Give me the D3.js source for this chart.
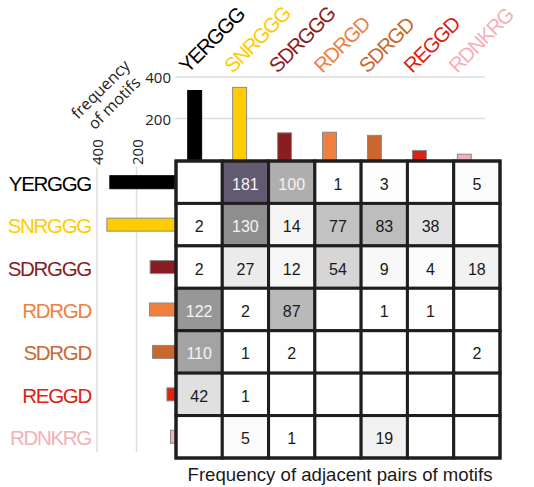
<!DOCTYPE html>
<html>
<head>
<meta charset="utf-8">
<script src="https://cdn.jsdelivr.net/npm/d3@7"></script>
<style>
  html, body { margin: 0; padding: 0; background: #fff; }
  svg { display: block; }
</style>
</head>
<body>
<svg id="chart" width="534" height="487"></svg>
<script>
// Motifs, in the order used for both the rows and the columns
const motifs = ["YERGGG", "SNRGGG", "SDRGGG", "RDRGD", "SDRGD", "REGGD", "RDNKRG"];
const motifColors = ["#000000", "#FFCC00", "#8B1C22", "#F08040", "#C9672F", "#DD2210", "#F4B0B8"];

// Total frequency of each motif (marginal bars)
const motifFrequency = [335, 350, 131, 134, 119, 46, 28];
const freqTicks = [200, 400];

// Frequency of adjacent pairs: row = first motif, column = following motif (null = none)
const pairCounts = [
  [null, 181, 100, 1,    3,    null, 5   ],
  [2,    130, 14,  77,   83,   38,   null],
  [2,    27,  12,  54,   9,    4,    18  ],
  [122,  2,   87,  null, 1,    1,    null],
  [110,  1,   2,   null, null, null, 2   ],
  [42,   1,   null, null, null, null, null],
  [null, 5,   1,   null, 19,   null, null]
];

const svg = d3.select("#chart");
const labelFont = "Liberation Sans, Arial, sans-serif";
const tickFont = "Open Sans, sans-serif";

// Matrix layout
const gx = d3.scaleBand().domain(d3.range(motifs.length)).range([176, 500]);
const gy = d3.scaleBand().domain(d3.range(motifs.length)).range([161, 458]);

const shade = d3.scaleLinear()
  .domain([0, 50, 100, 130, 181])
  .range(["#ffffff", "#dadada", "#aeaeae", "#8e8e8e", "#625a70"])
  .interpolate(d3.interpolateRgb);

// ---------- top marginal bar chart ----------
const tx = d3.scaleBand().domain(d3.range(motifs.length)).range([172, 487]).paddingInner(0.69).paddingOuter(0.35);
const ty = d3.scaleLinear().domain([0, 400]).range([160, 77]);

svg.append("g").selectAll("line").data(freqTicks).join("line")
  .attr("x1", 175).attr("x2", 485)
  .attr("y1", d => ty(d)).attr("y2", d => ty(d))
  .attr("stroke", "#dedede").attr("stroke-width", 1.5);

svg.append("g").selectAll("text").data(freqTicks).join("text")
  .attr("x", 171).attr("y", d => ty(d))
  .attr("text-anchor", "end").attr("dominant-baseline", "central")
  .attr("font-family", tickFont).attr("font-size", 15)
  .attr("fill", "#222").text(d => d);

svg.append("g").selectAll("rect").data(motifFrequency).join("rect")
  .attr("x", (d, i) => tx(i)).attr("width", tx.bandwidth())
  .attr("y", d => ty(d)).attr("height", d => ty(0) - ty(d) + 2)
  .attr("fill", (d, i) => motifColors[i])
  .attr("stroke", (d, i) => i === 0 ? "#000" : "#8a8a8a").attr("stroke-width", 1);

// rotated column labels
svg.append("g").selectAll("text").data(motifs).join("text")
  .attr("transform", (d, i) => `translate(${tx(i) + tx.bandwidth() / 2 - 7},74) rotate(-45)`)
  .attr("font-family", labelFont).attr("font-size", 20.5)
  .attr("letter-spacing", -1.3)
  .attr("fill", (d, i) => motifColors[i]).text(d => d);

// axis title for the marginal bars
const ft = svg.append("text")
  .attr("transform", "translate(107,96) rotate(-45)")
  .attr("text-anchor", "middle")
  .attr("font-family", tickFont).attr("font-size", 16)
  .attr("fill", "#222");
ft.append("tspan").attr("x", 0).attr("y", -9.7).attr("dominant-baseline", "central").text("frequency");
ft.append("tspan").attr("x", 0).attr("y", 9.7).attr("dominant-baseline", "central").text("of motifs");

// ---------- left marginal bar chart ----------
const lx = d3.scaleLinear().domain([0, 400]).range([176, 97]);
const ly = d3.scaleBand().domain(d3.range(motifs.length)).range([161, 458]);

svg.append("g").selectAll("line").data(freqTicks).join("line")
  .attr("x1", d => lx(d)).attr("x2", d => lx(d))
  .attr("y1", 167).attr("y2", 452)
  .attr("stroke", "#dedede").attr("stroke-width", 1.5);

svg.append("g").selectAll("text").data(freqTicks).join("text")
  .attr("transform", d => `translate(${lx(d)},165) rotate(-90)`)
  .attr("dominant-baseline", "central")
  .attr("font-family", tickFont).attr("font-size", 15)
  .attr("fill", "#222").text(d => d);

svg.append("g").selectAll("rect").data(motifFrequency).join("rect")
  .attr("x", d => lx(d)).attr("width", d => lx(0) - lx(d))
  .attr("y", (d, i) => ly(i) + ly.bandwidth() / 2 - 6.5).attr("height", 13)
  .attr("fill", (d, i) => motifColors[i])
  .attr("stroke", (d, i) => i === 0 ? "#000" : "#8a8a8a").attr("stroke-width", 1);

// row labels
svg.append("g").selectAll("text").data(motifs).join("text")
  .attr("x", 91).attr("y", (d, i) => ly(i) + ly.bandwidth() / 2 + 1)
  .attr("text-anchor", "end").attr("dominant-baseline", "central")
  .attr("font-family", labelFont).attr("font-size", 20.5)
  .attr("letter-spacing", -1.3)
  .attr("fill", (d, i) => motifColors[i]).text(d => d);

// ---------- pair matrix ----------
const cells = [];
pairCounts.forEach((row, r) => row.forEach((v, c) => cells.push({ r, c, v })));

const cellG = svg.append("g");
cellG.selectAll("rect").data(cells).join("rect")
  .attr("x", d => gx(d.c)).attr("y", d => gy(d.r))
  .attr("width", gx.bandwidth()).attr("height", gy.bandwidth())
  .attr("fill", d => d.v == null ? "#ffffff" : shade(d.v))
  .attr("stroke", "#1e1e1e").attr("stroke-width", 3);

cellG.selectAll("text").data(cells.filter(d => d.v != null)).join("text")
  .attr("x", d => gx(d.c) + gx.bandwidth() / 2)
  .attr("y", d => gy(d.r) + gy.bandwidth() / 2 + 2)
  .attr("text-anchor", "middle").attr("dominant-baseline", "central")
  .attr("font-family", labelFont).attr("font-size", 16)
  .attr("fill", d => d.v >= 100 ? "#f4f4f4" : "#1a1a1a")
  .text(d => d.v);

svg.append("rect")
  .attr("x", 176).attr("y", 161).attr("width", 324).attr("height", 297)
  .attr("fill", "none").attr("stroke", "#1e1e1e").attr("stroke-width", 3);

// matrix title
svg.append("text")
  .attr("x", 340).attr("y", 481)
  .attr("text-anchor", "middle")
  .attr("font-family", labelFont).attr("font-size", 18.6)
  .attr("fill", "#1a1a1a")
  .text("Frequency of adjacent pairs of motifs");
</script>
</body>
</html>
